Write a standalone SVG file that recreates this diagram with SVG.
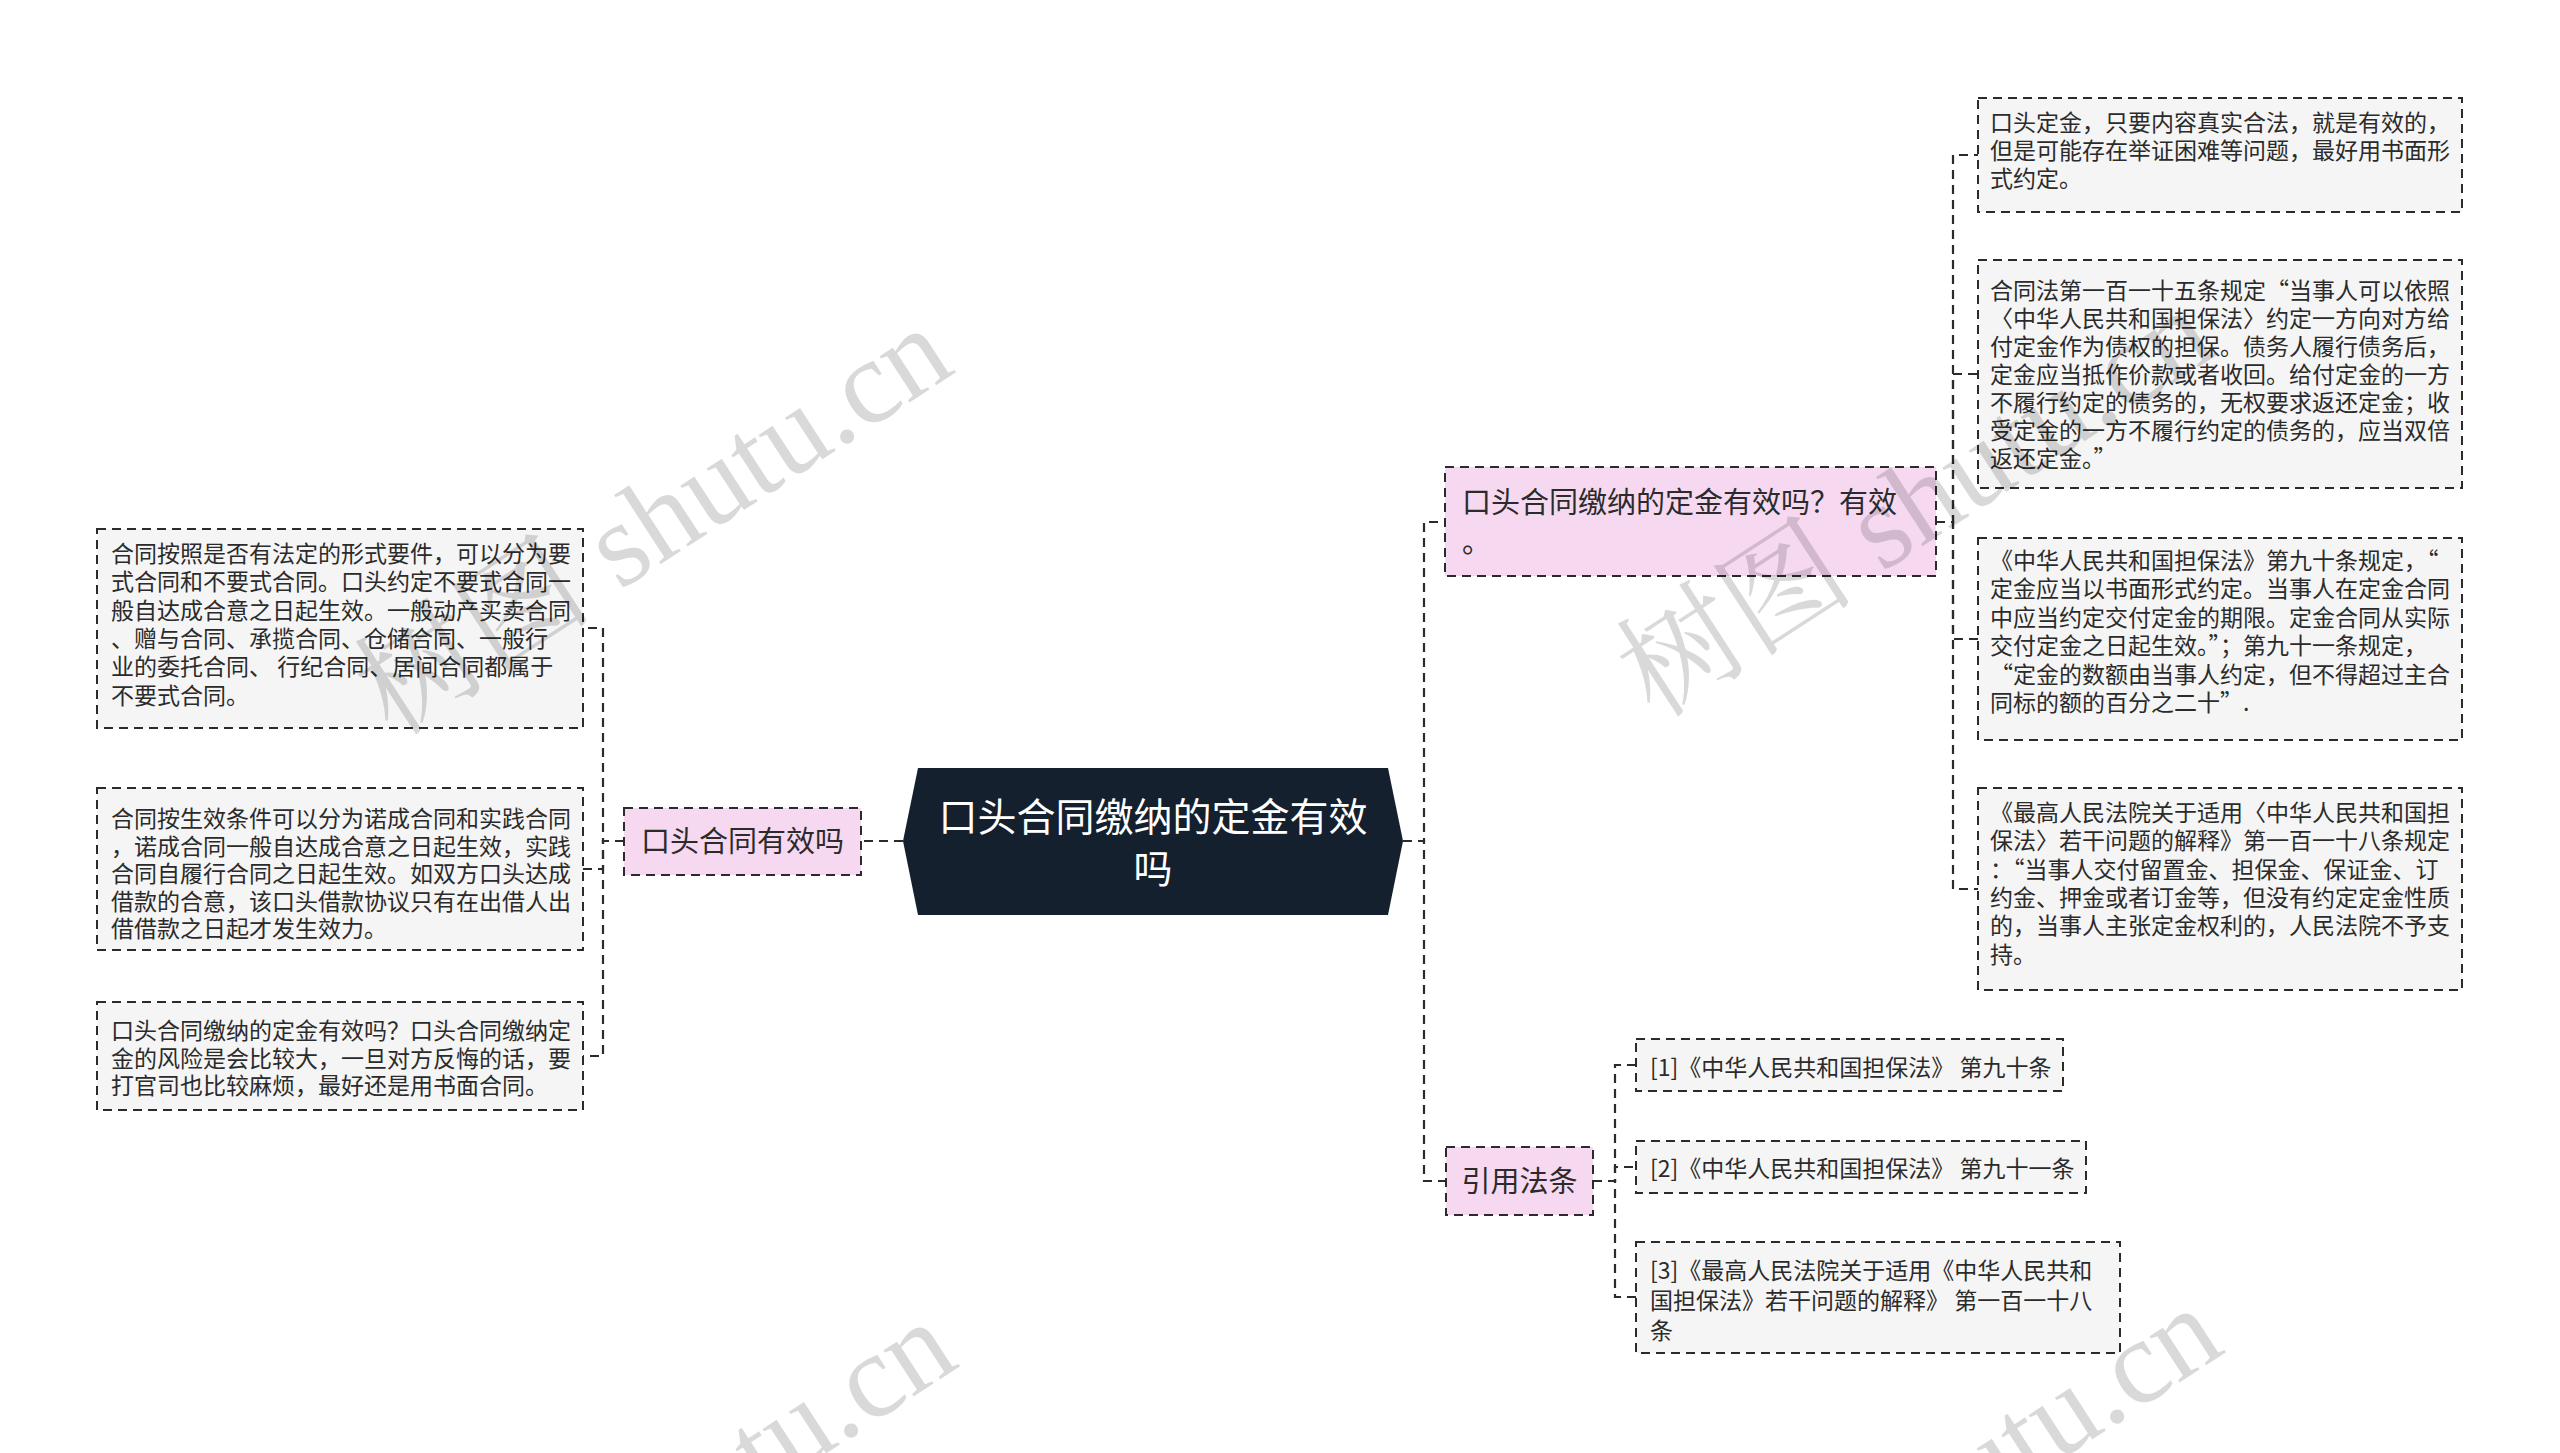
<svg xmlns="http://www.w3.org/2000/svg" width="2560" height="1453" viewBox="0 0 2560 1453">
<style>
.t{font-family:"Noto Sans CJK SC","Liberation Sans",sans-serif;fill:#2b2b2b}
.s{font-size:23px}
.m{font-size:29px}
.box{fill:#f5f5f5;stroke:#2b2b2b;stroke-width:2;stroke-dasharray:9 6}
.pink{fill:#f6d9f0;stroke:#2b2b2b;stroke-width:2;stroke-dasharray:9 6}
.con{fill:none;stroke:#2b2b2b;stroke-width:2.2;stroke-dasharray:9 6}
.wm{font-family:"Liberation Serif","Noto Serif CJK SC","Noto Sans CJK SC",serif;font-size:120px;fill:#000;fill-opacity:0.15}
</style>
<rect width="2560" height="1453" fill="#ffffff"/>
<g id="connectors">
<path class="con" d="M903 841 H861"/>
<path class="con" d="M624 841 H603 V628 H583"/>
<path class="con" d="M624 841 H603 V869 H583"/>
<path class="con" d="M624 841 H603 V1056 H583"/>
<path class="con" d="M1403 841 H1424 V522 H1445"/>
<path class="con" d="M1403 841 H1424 V1181 H1446"/>
<path class="con" d="M1936 522 H1953 V155 H1978"/>
<path class="con" d="M1936 522 H1953 V374 H1978"/>
<path class="con" d="M1936 522 H1953 V639 H1978"/>
<path class="con" d="M1936 522 H1953 V889 H1978"/>
<path class="con" d="M1593 1181 H1615 V1065 H1636"/>
<path class="con" d="M1593 1181 H1615 V1167 H1636"/>
<path class="con" d="M1593 1181 H1615 V1297 H1636"/>
</g>
<g id="root">
<polygon points="903,841 918,768 1388,768 1403,841 1388,915 918,915" fill="#15202f"/>
<text class="t" style="font-size:39px;fill:#ffffff" text-anchor="middle" x="1153" y="831">口头合同缴纳的定金有效</text>
<text class="t" style="font-size:39px;fill:#ffffff" text-anchor="middle" x="1153" y="883">吗</text>
</g>
<g id="left-main">
<rect class="pink" x="624" y="808" width="237" height="67"/>
<text class="t m" text-anchor="middle" x="742.5" y="852">口头合同有效吗</text>
</g>
<g id="left-1">
<rect class="box" x="97" y="529" width="486" height="199"/>
<text class="t s" x="111" y="562">合同按照是否有法定的形式要件，可以分为要</text>
<text class="t s" x="111" y="590.3">式合同和不要式合同。口头约定不要式合同一</text>
<text class="t s" x="111" y="618.6">般自达成合意之日起生效。一般动产买卖合同</text>
<text class="t s" x="111" y="646.9">、赠与合同、承揽合同、仓储合同、一般行</text>
<text class="t s" x="111" y="675.2">业的委托合同、 行纪合同、居间合同都属于</text>
<text class="t s" x="111" y="703.5">不要式合同。</text>
</g>
<g id="left-2">
<rect class="box" x="97" y="788" width="486" height="162"/>
<text class="t s" x="111" y="827">合同按生效条件可以分为诺成合同和实践合同</text>
<text class="t s" x="111" y="854.5">，诺成合同一般自达成合意之日起生效，实践</text>
<text class="t s" x="111" y="882">合同自履行合同之日起生效。如双方口头达成</text>
<text class="t s" x="111" y="909.5">借款的合意，该口头借款协议只有在出借人出</text>
<text class="t s" x="111" y="937">借借款之日起才发生效力。</text>
</g>
<g id="left-3">
<rect class="box" x="97" y="1002" width="486" height="108"/>
<text class="t s" x="111" y="1039">口头合同缴纳的定金有效吗？口头合同缴纳定</text>
<text class="t s" x="111" y="1066.5">金的风险是会比较大，一旦对方反悔的话，要</text>
<text class="t s" x="111" y="1094">打官司也比较麻烦，最好还是用书面合同。</text>
</g>
<g id="right-main">
<rect class="pink" x="1445" y="467" width="491" height="109"/>
<text class="t m" x="1462" y="513">口头合同缴纳的定金有效吗？有效</text>
<text class="t m" x="1462" y="553">。</text>
</g>
<g id="right-1">
<rect class="box" x="1978" y="98" width="484" height="114"/>
<text class="t s" x="1990" y="131">口头定金，只要内容真实合法，就是有效的，</text>
<text class="t s" x="1990" y="159">但是可能存在举证困难等问题，最好用书面形</text>
<text class="t s" x="1990" y="187">式约定。</text>
</g>
<g id="right-2">
<rect class="box" x="1978" y="260" width="484" height="228"/>
<text class="t s" x="1990" y="299">合同法第一百一十五条规定“当事人可以依照</text>
<text class="t s" x="1990" y="327">〈中华人民共和国担保法〉约定一方向对方给</text>
<text class="t s" x="1990" y="355">付定金作为债权的担保。债务人履行债务后，</text>
<text class="t s" x="1990" y="383">定金应当抵作价款或者收回。给付定金的一方</text>
<text class="t s" x="1990" y="411">不履行约定的债务的，无权要求返还定金；收</text>
<text class="t s" x="1990" y="439">受定金的一方不履行约定的债务的，应当双倍</text>
<text class="t s" x="1990" y="467">返还定金。”</text>
</g>
<g id="right-3">
<rect class="box" x="1978" y="538" width="484" height="202"/>
<text class="t s" x="1990" y="569">《中华人民共和国担保法》第九十条规定，“</text>
<text class="t s" x="1990" y="597.4">定金应当以书面形式约定。当事人在定金合同</text>
<text class="t s" x="1990" y="625.8">中应当约定交付定金的期限。定金合同从实际</text>
<text class="t s" x="1990" y="654.2">交付定金之日起生效。”；第九十一条规定，</text>
<text class="t s" x="1990" y="682.6">“定金的数额由当事人约定，但不得超过主合</text>
<text class="t s" x="1990" y="711">同标的额的百分之二十”.</text>
</g>
<g id="right-4">
<rect class="box" x="1978" y="788" width="484" height="202"/>
<text class="t s" x="1990" y="821">《最高人民法院关于适用〈中华人民共和国担</text>
<text class="t s" x="1990" y="849.3">保法〉若干问题的解释》第一百一十八条规定</text>
<text class="t s" x="1990" y="877.6">：“当事人交付留置金、担保金、保证金、订</text>
<text class="t s" x="1990" y="905.9">约金、押金或者订金等，但没有约定定金性质</text>
<text class="t s" x="1990" y="934.2">的，当事人主张定金权利的，人民法院不予支</text>
<text class="t s" x="1990" y="962.5">持。</text>
</g>
<g id="refs-main">
<rect class="pink" x="1446" y="1147" width="147" height="68"/>
<text class="t m" text-anchor="middle" x="1519.5" y="1192">引用法条</text>
</g>
<g id="ref-1">
<rect class="box" x="1636" y="1039" width="427" height="52"/>
<text class="t s" x="1650" y="1076">[1]《中华人民共和国担保法》 第九十条</text>
</g>
<g id="ref-2">
<rect class="box" x="1636" y="1141" width="450" height="52"/>
<text class="t s" x="1650" y="1177">[2]《中华人民共和国担保法》 第九十一条</text>
</g>
<g id="ref-3">
<rect class="box" x="1636" y="1242" width="484" height="111"/>
<text class="t s" x="1650" y="1279">[3]《最高人民法院关于适用《中华人民共和</text>
<text class="t s" x="1650" y="1309">国担保法》若干问题的解释》 第一百一十八</text>
<text class="t s" x="1650" y="1339">条</text>
</g>
<g id="watermark">
<text class="wm" transform="translate(393,738) rotate(-33)">树图 shutu.cn</text>
<text class="wm" transform="translate(1655,720) rotate(-33)">树图 shutu.cn</text>
<text class="wm" transform="translate(397,1732) rotate(-33)">树图 shutu.cn</text>
<text class="wm" transform="translate(1663,1718) rotate(-33)">树图 shutu.cn</text>
</g>
</svg>
